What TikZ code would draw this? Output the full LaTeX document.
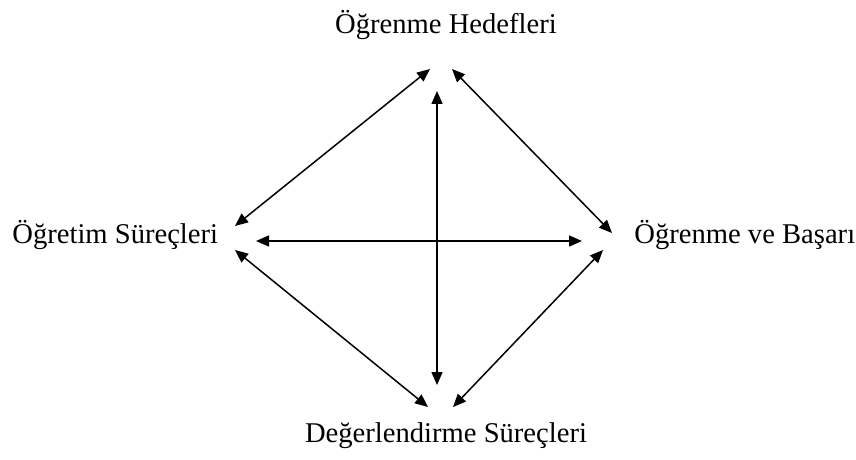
\documentclass[tikz,border=0pt]{standalone}
\usepackage{fontspec}
\setmainfont{Liberation Serif}
\usepackage{tikz}
\usetikzlibrary{arrows.meta,positioning}

\begin{document}
\begin{tikzpicture}[
  x=0.5pt, y=-0.5pt,
  label/.style={inner sep=0pt, font=\fontsize{14.3}{17}\selectfont},
  arr/.style={{Triangle[length=6.5pt,width=5.5pt]}-{Triangle[length=6.5pt,width=5.5pt]}, line width=0.75pt}
]
\useasboundingbox (0,0) rectangle (856,460);

% the four labels
\node[label, anchor=base] (hedef) at (446,34) {Öğrenme Hedefleri};
\node[label, anchor=base west] (ogretim) at (12,243) {Öğretim Süreçleri};
\node[label, anchor=base west] (basari) at (634,243) {Öğrenme ve Başarı};
\node[label, anchor=base] (deger) at (446,442) {Değerlendirme Süreçleri};

% arrow ends
\coordinate (tl1) at (430,69);  \coordinate (tl2) at (235,226);
\coordinate (tr1) at (452,69);  \coordinate (tr2) at (612,233);
\coordinate (bl1) at (235,250); \coordinate (bl2) at (428,407);
\coordinate (br1) at (603,250); \coordinate (br2) at (453,407);
\coordinate (vt) at (437,91);   \coordinate (vb) at (437,385);
\coordinate (hl) at (256,241);  \coordinate (hr) at (582,241);

\draw[arr] (tl1) -- (tl2);
\draw[arr] (tr1) -- (tr2);
\draw[arr] (bl1) -- (bl2);
\draw[arr] (br1) -- (br2);
\draw[arr] (vt) -- (vb);
\draw[arr] (hl) -- (hr);
\end{tikzpicture}
\end{document}
